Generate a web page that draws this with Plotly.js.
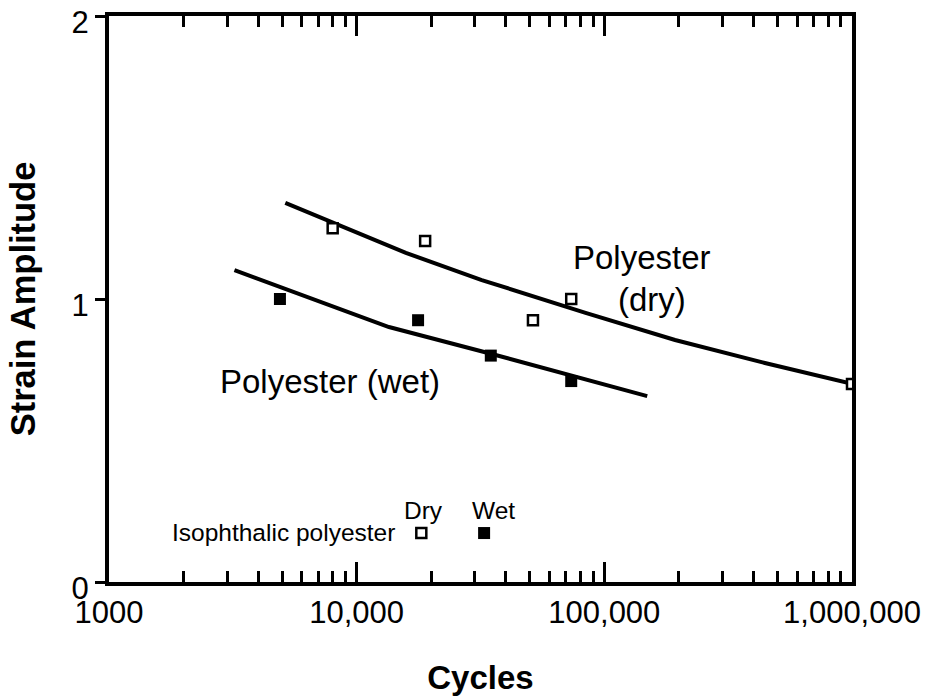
<!DOCTYPE html>
<html>
<head>
<meta charset="utf-8">
<script src="https://cdn.plot.ly/plotly-3.0.1.min.js"></script>
<style>html,body{margin:0;padding:0;background:#fff;}#chart{width:930px;height:697px;}</style>
</head>
<body>
<div id="chart"></div>
<script>
// Data
const dryCycles = [8000, 18900, 51500, 73500, 1000000];
const dryStrain = [1.25, 1.205, 0.925, 1.0, 0.70];
const wetCycles = [4900, 17700, 34800, 73500];
const wetStrain = [1.0, 0.925, 0.80, 0.71];
const dryFitCycles = [5150, 15800, 32000, 84000, 193000, 445000, 1000000];
const dryFitStrain = [1.34, 1.163, 1.067, 0.951, 0.855, 0.774, 0.70];
const wetFitCycles = [3210, 13500, 36400, 149000];
const wetFitStrain = [1.102, 0.901, 0.802, 0.657];
const isoDryCycles = [18240];
const isoDryStrain = [0.173];
const isoWetCycles = [32700];
const isoWetStrain = [0.173];
const xTickVals = [1000, 10000, 100000, 1000000];
const xTickText = ["1000", "10,000", "100,000", "1,000,000"];
const yTickVals = [0, 1, 2];
const yTickText = ["0", "1", "2"];

const minorVals = [];
for (let d = 1000; d < 1000000; d *= 10) {
  for (let k = 2; k <= 9; k++) minorVals.push(d * k);
}

const FONT = "Liberation Sans, Arial, sans-serif";
const TICK = "#000";

const traces = [
  {x: dryFitCycles, y: dryFitStrain, mode: "lines", line: {color: "#000", width: 4}, hoverinfo: "skip"},
  {x: wetFitCycles, y: wetFitStrain, mode: "lines", line: {color: "#000", width: 4}, hoverinfo: "skip"},
  {x: dryCycles, y: dryStrain, mode: "markers", marker: {symbol: "square", size: 10, color: "#fff", line: {color: "#000", width: 2.5}}},
  {x: wetCycles, y: wetStrain, mode: "markers", marker: {symbol: "square", size: 12, color: "#000", line: {width: 0}}},
  {x: isoDryCycles, y: isoDryStrain, mode: "markers", marker: {symbol: "square", size: 10, color: "#fff", line: {color: "#000", width: 2.5}}},
  {x: isoWetCycles, y: isoWetStrain, mode: "markers", marker: {symbol: "square", size: 12, color: "#000", line: {width: 0}}}
];

const annFont = {family: FONT, size: 33, color: "#000"};
const smallFont = {family: FONT, size: 24.5, color: "#000"};

const layout = {
  width: 930, height: 697,
  margin: {l: 109, r: 78, t: 16, b: 115},
  showlegend: false,
  font: {family: FONT, color: "#000"},
  xaxis: {
    type: "log", range: [3, 6],
    tickmode: "array", tickvals: xTickVals, ticktext: xTickText,
    ticks: "inside", ticklen: 20, tickwidth: 3, tickcolor: TICK,
    minor: {tickmode: "array", tickvals: minorVals, ticks: "inside", ticklen: 11, tickwidth: 3, tickcolor: TICK},
    showline: true, linecolor: "#000", linewidth: 4, mirror: "ticks",
    showgrid: false, zeroline: false,
    tickfont: {family: FONT, size: 31, color: "#000"},
    title: {text: "<b>Cycles</b>", font: {family: FONT, size: 33, color: "#000"}, standoff: 38}
  },
  yaxis: {
    range: [0, 2],
    tickmode: "array", tickvals: yTickVals, ticktext: yTickText,
    ticks: "outside", ticklen: 10, tickwidth: 3, tickcolor: "#000",
    showline: true, linecolor: "#000", linewidth: 4, mirror: true,
    showgrid: false, zeroline: false,
    tickfont: {family: FONT, size: 31, color: "#000"},
    ticklabelshift: 6,
    title: {text: "<b>Strain Amplitude</b>", font: {family: FONT, size: 34.5, color: "#000"}, standoff: 26}
  },
  annotations: [
    {xref: "paper", yref: "paper", x: 0.717, y: 0.574, text: "Polyester", showarrow: false, font: annFont, xanchor: "center", yanchor: "middle"},
    {xref: "paper", yref: "paper", x: 0.731, y: 0.50, text: "(dry)", showarrow: false, font: annFont, xanchor: "center", yanchor: "middle"},
    {xref: "paper", yref: "paper", x: 0.297, y: 0.355, text: "Polyester (wet)", showarrow: false, font: annFont, xanchor: "center", yanchor: "middle"},
    {xref: "paper", yref: "paper", x: 0.388, y: 0.0866, text: "Isophthalic polyester", showarrow: false, font: smallFont, xanchor: "right", yanchor: "middle"},
    {xref: "paper", yref: "paper", x: 0.423, y: 0.127, text: "Dry", showarrow: false, font: smallFont, xanchor: "center", yanchor: "middle"},
    {xref: "paper", yref: "paper", x: 0.517, y: 0.127, text: "Wet", showarrow: false, font: smallFont, xanchor: "center", yanchor: "middle"}
  ]
};

Plotly.newPlot("chart", traces, layout, {staticPlot: true, displayModeBar: false});
</script>
</body>
</html>
